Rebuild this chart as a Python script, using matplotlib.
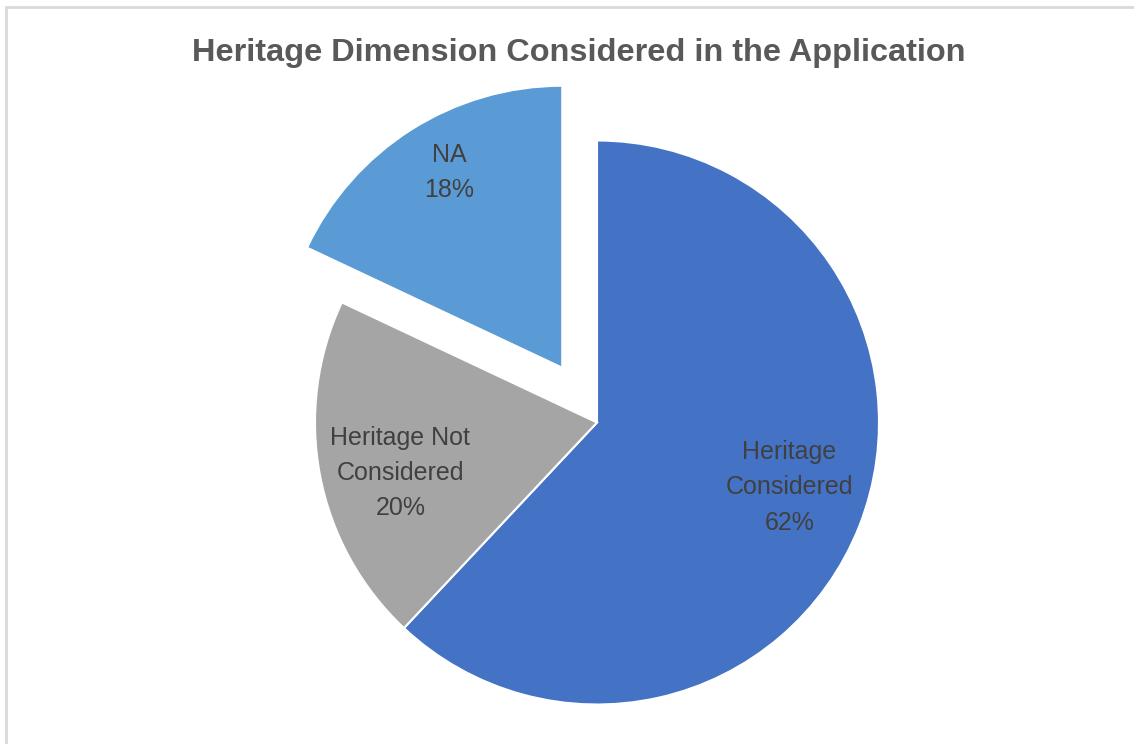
import matplotlib
matplotlib.use("Agg")
import matplotlib.pyplot as plt
import numpy as np
from matplotlib.patches import Rectangle

categories = ["Heritage Considered", "Heritage Not Considered", "NA"]
values = [62, 20, 18]
label_texts = ["Heritage\nConsidered\n62%", "Heritage Not\nConsidered\n20%", "NA\n18%"]
colors = ["#4472C4", "#A5A5A5", "#5B9BD5"]
explode_frac = [0, 0, 0.23]
label_dist = [0.72, 0.72, 0.80]
label_angle_adj = [3.0, 3.6, -2.4]

W, H = 1134, 744
fig = plt.figure(figsize=(W / 100, H / 100), dpi=100)
ax = fig.add_axes([0, 0, 1, 1])

cx, cy, R = 597, H - 422.5, 282
wedges, _ = ax.pie(values, colors=colors, explode=[e * R for e in explode_frac],
                   startangle=90, counterclock=False, center=(cx, cy), radius=R,
                   wedgeprops=dict(edgecolor="white", linewidth=1.5))
ax.set_xlim(0, W)
ax.set_ylim(0, H)
ax.set_aspect("equal")
ax.axis("off")

for w, txt, d, a in zip(wedges, label_texts, label_dist, label_angle_adj):
    mid = np.deg2rad((w.theta1 + w.theta2) / 2 + a)
    x = w.center[0] + d * w.r * np.cos(mid)
    y = w.center[1] + d * w.r * np.sin(mid)
    ax.text(x, y, txt, ha="center", va="center", fontsize=18,
            color="#404040", family="Liberation Sans", linespacing=1.6)

ax.text(579, H - 53, "Heritage Dimension Considered in the Application",
        ha="center", va="center", fontsize=23.4, fontweight="bold",
        color="#595959", family="Liberation Sans")

fig.patches.append(Rectangle((5.5 / W, -0.01), 1.2, (H - 6.5) / H + 0.01,
                             transform=fig.transFigure, fill=False,
                             edgecolor="#D9D9D9", linewidth=2))

fig.savefig("out.png", dpi=100)
